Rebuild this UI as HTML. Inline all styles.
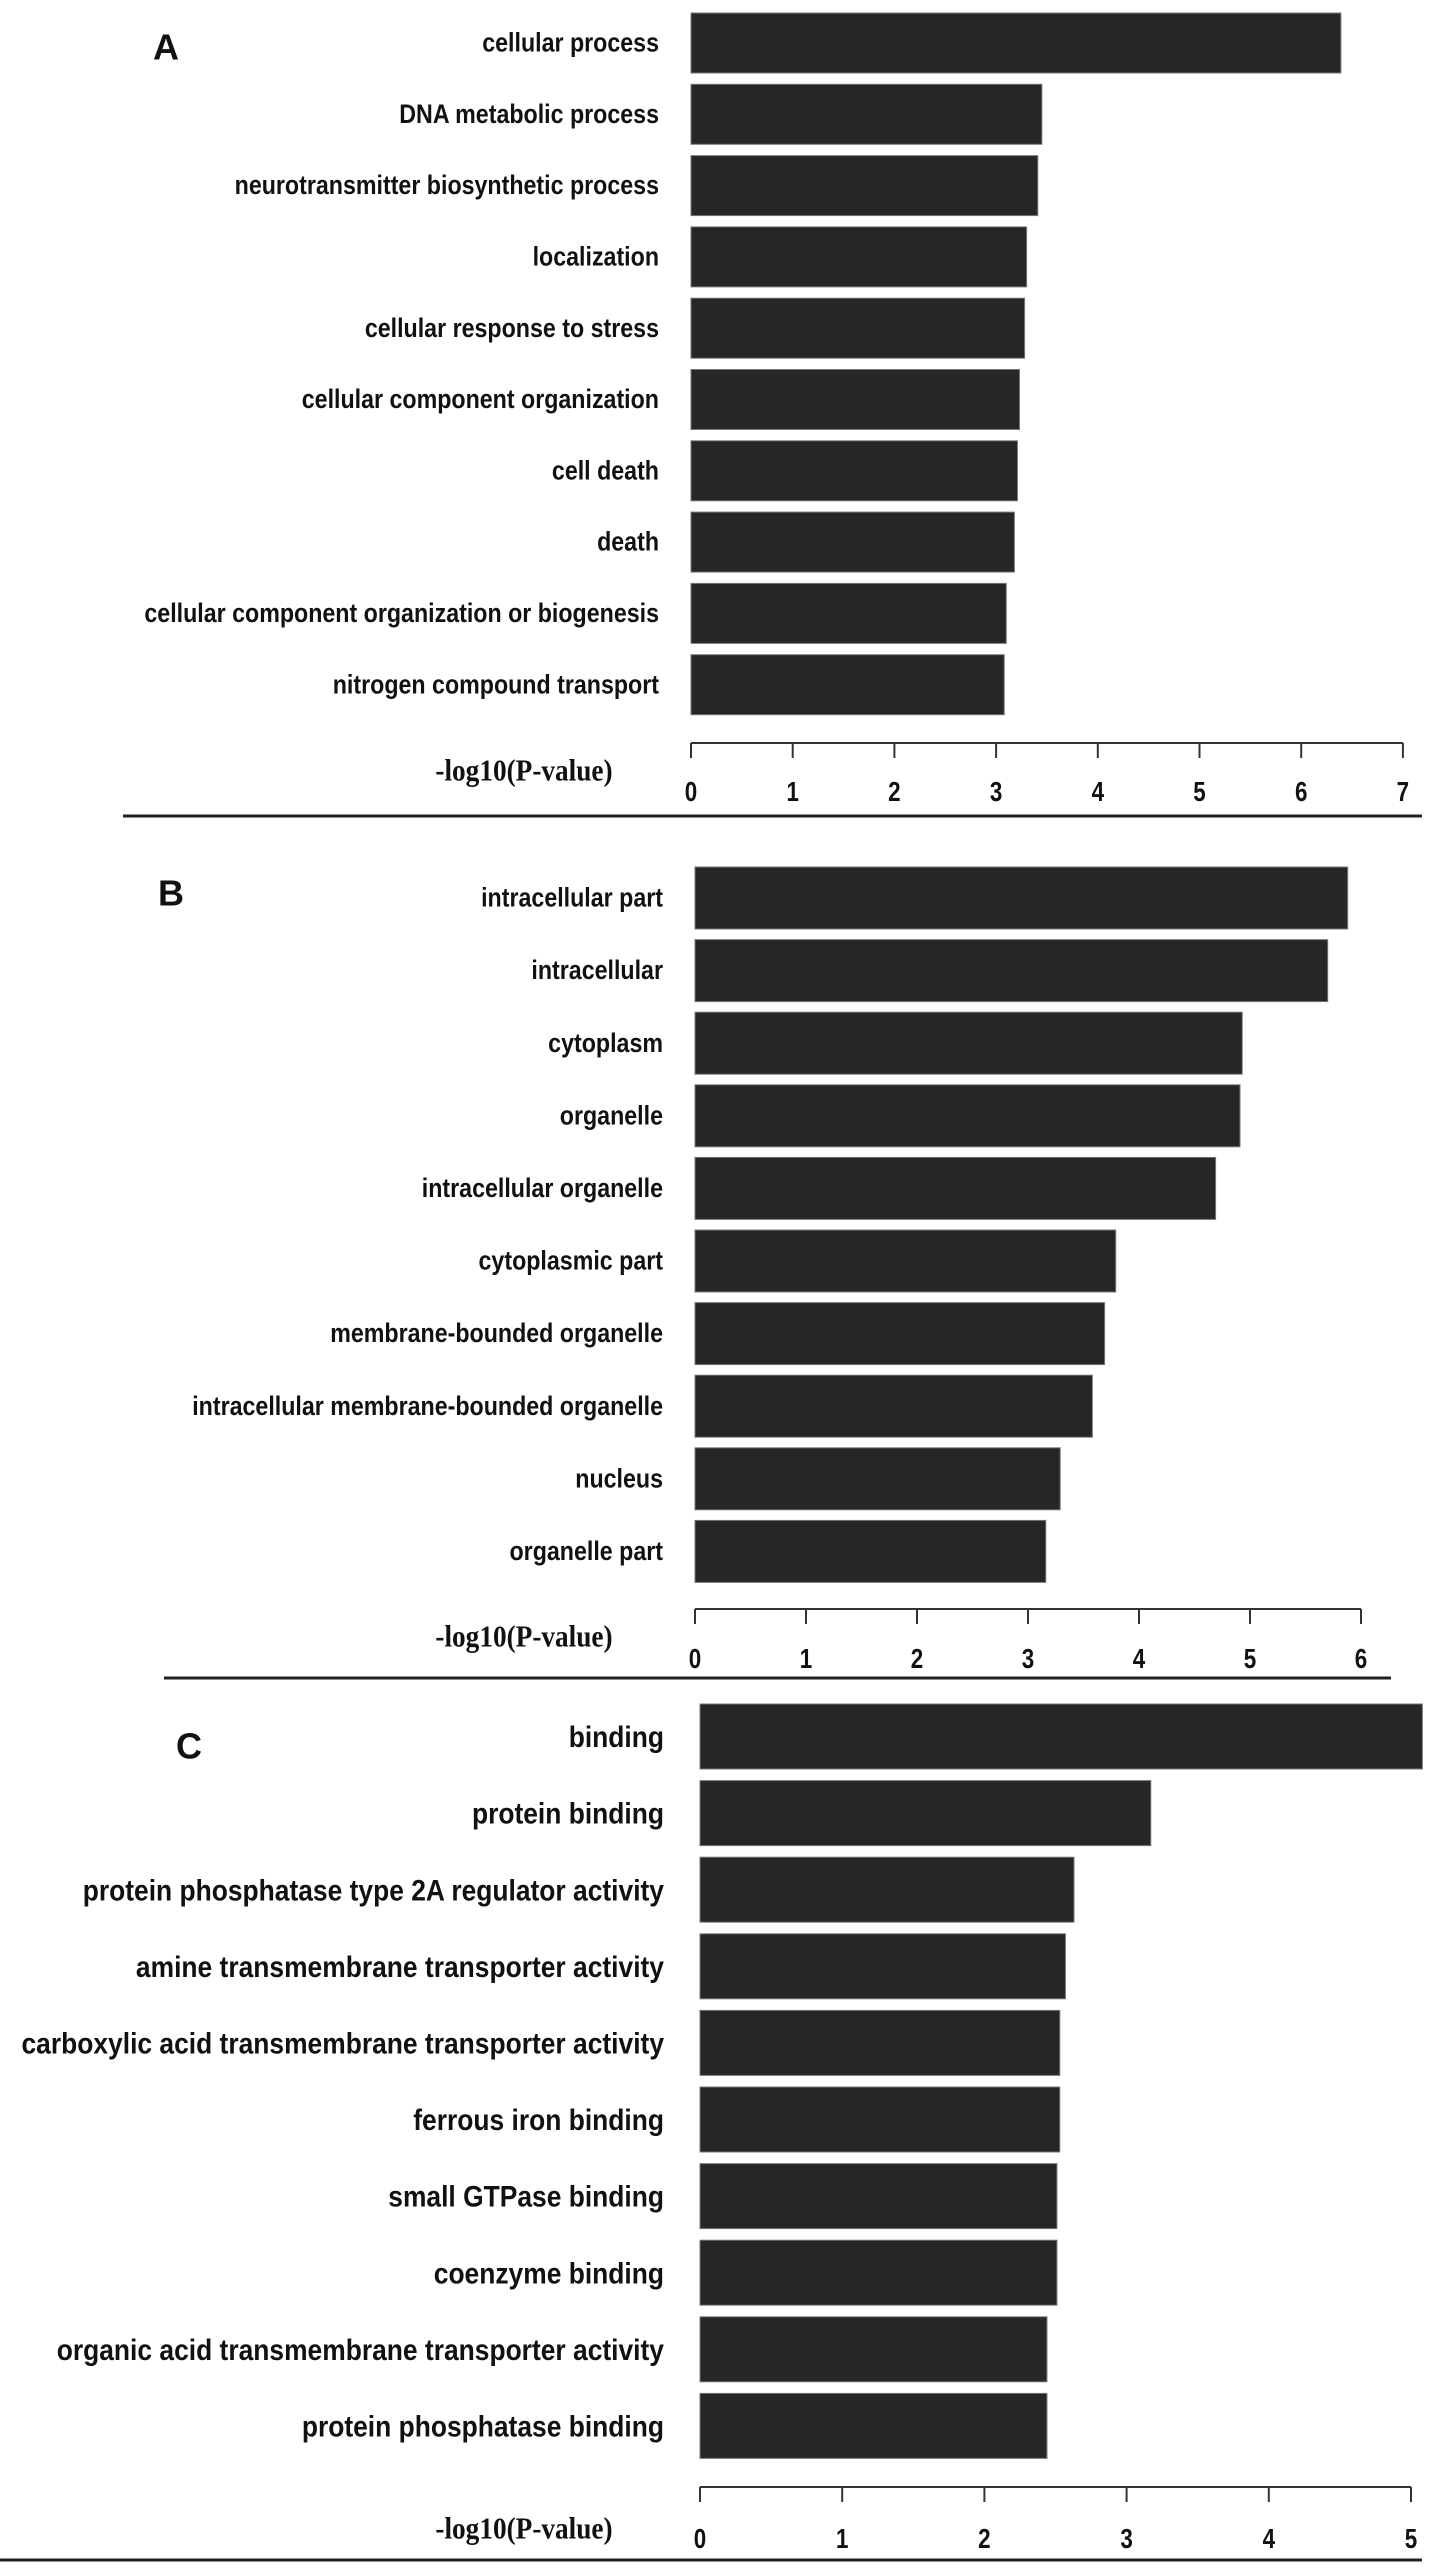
<!DOCTYPE html>
<html><head><meta charset="utf-8"><style>
html,body{margin:0;padding:0;background:#fff}
svg{display:block}
text{font-family:"Liberation Sans",Arial,sans-serif;fill:#111}
</style></head><body>
<svg id="c" width="1441" height="2569" viewBox="0 0 1441 2569" xmlns="http://www.w3.org/2000/svg"></svg>
<script>
const catsA = ["cellular process","DNA metabolic process","neurotransmitter biosynthetic process","localization","cellular response to stress","cellular component organization","cell death","death","cellular component organization or biogenesis","nitrogen compound transport"];
const valsA = [6.39,3.45,3.41,3.30,3.28,3.23,3.21,3.18,3.10,3.08];
const ticksA = [0,1,2,3,4,5,6,7];
const catsB = ["intracellular part","intracellular","cytoplasm","organelle","intracellular organelle","cytoplasmic part","membrane-bounded organelle","intracellular membrane-bounded organelle","nucleus","organelle part"];
const valsB = [5.88,5.70,4.93,4.91,4.69,3.79,3.69,3.58,3.29,3.16];
const ticksB = [0,1,2,3,4,5,6];
const catsC = ["binding","protein binding","protein phosphatase type 2A regulator activity","amine transmembrane transporter activity","carboxylic acid transmembrane transporter activity","ferrous iron binding","small GTPase binding","coenzyme binding","organic acid transmembrane transporter activity","protein phosphatase binding"];
const valsC = [5.08,3.17,2.63,2.57,2.53,2.53,2.51,2.51,2.44,2.44];
const ticksC = [0,1,2,3,4,5];

const NS="http://www.w3.org/2000/svg";
const svg=document.getElementById('c');
function mk(tag,attrs,parent){const e=document.createElementNS(NS,tag);for(const k in attrs)e.setAttribute(k,attrs[k]);(parent||svg).appendChild(e);return e;}

function panel(p){
  const g=mk('g',{});
  
  
  const sx=v=>p.x0+v*p.unit;
  const letter=mk('text',{x:p.lx,y:p.ly,'font-size':36,'font-weight':'bold','text-anchor':'middle','dominant-baseline':'central'},g);
  letter.textContent=p.id;
  
  
  p.cats.forEach((c,i)=>{
    const y=p.top+i*p.pitch;
    const r=mk('rect',{x:sx(0),y:y,width:sx(p.vals[i])-sx(0),height:p.bh,fill:'#262626',stroke:'#777','stroke-width':1},g);
    
    
    const t=mk('text',{x:0,y:0,'font-size':p.fs,'font-weight':'bold','text-anchor':'end','dominant-baseline':'central',transform:`translate(${p.labR},${y+p.bh/2}) scale(${p.scx},1)`},g);
    t.textContent=c;
    
    
  });
  const ax=mk('g',{},g);
  
  
  const tmax=p.ticks[p.ticks.length-1];
  mk('line',{x1:sx(0),x2:sx(tmax),y1:p.ay,y2:p.ay,stroke:'#333','stroke-width':2},ax);
  p.ticks.forEach(v=>{
    mk('line',{x1:sx(v),x2:sx(v),y1:p.ay,y2:p.ay+15,stroke:'#333','stroke-width':2},ax);
    const t=mk('text',{x:0,y:0,'font-size':28,'font-weight':'bold','text-anchor':'middle','dominant-baseline':'central',transform:`translate(${sx(v)},${p.ty}) scale(0.8,1)`},ax);
    t.textContent=v;
    
    
  });
  const xt=mk('text',{x:0,y:0,'font-size':31,'font-weight':'bold','text-anchor':'middle','dominant-baseline':'central',style:'font-family:"Liberation Serif",serif',transform:`translate(524,${p.xty}) scale(0.88,1)`},g);
  xt.textContent='-log10(P-value)';
  
  
  const sep=mk('line',{x1:p.s1,x2:p.s2,y1:p.sy,y2:p.sy,stroke:'#222','stroke-width':3},g);
  
  
}
panel({id:'A',cats:catsA,vals:valsA,ticks:ticksA,x0:691,unit:101.7,top:13,pitch:71.3,bh:60,labR:659,fs:27,scx:0.86,ay:743,ty:792,xty:771,lx:166,ly:47,s1:123,s2:1422,sy:816});
panel({id:'B',cats:catsB,vals:valsB,ticks:ticksB,x0:695,unit:111,top:867,pitch:72.6,bh:62,labR:663,fs:27,scx:0.86,ay:1609,ty:1659,xty:1637,lx:171,ly:893,s1:164,s2:1391,sy:1678});
panel({id:'C',cats:catsC,vals:valsC,ticks:ticksC,x0:700,unit:142.2,top:1704,pitch:76.6,bh:65,labR:664,fs:30,scx:0.88,ay:2487,ty:2539,xty:2529,lx:189,ly:1746,s1:0,s2:1422,sy:2560});
</script>
</body></html>
